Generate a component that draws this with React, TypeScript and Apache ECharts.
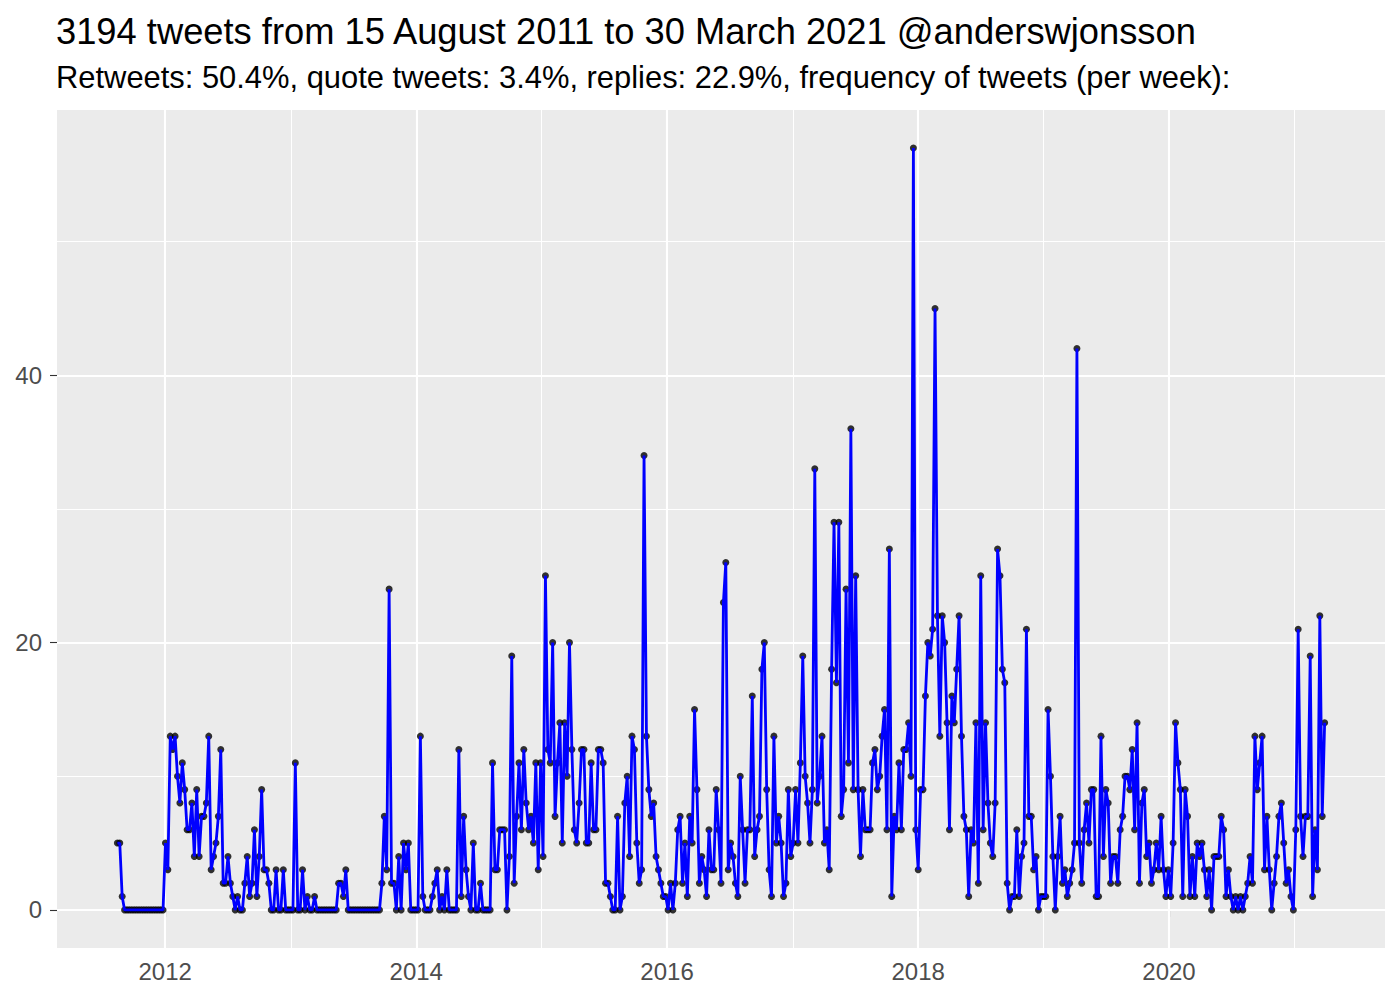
import React, { useEffect, useRef } from "react";
import * as echarts from "echarts";

// ---- texts ----
const TITLE = "3194 tweets from 15 August 2011 to 30 March 2021 @anderswjonsson";
const SUBTITLE =
  "Retweets: 50.4%, quote tweets: 3.4%, replies: 22.9%, frequency of tweets (per week):";

// ---- data: tweets per week, one value per week starting 15 August 2011 ----
const FIRST_WEEK = [2011, 7, 15]; // year, month (0-based), day
const weeks2011to2012 = [
  5, 5, 1, 0, 0, 0, 0, 0, 0, 0, 0, 0, 0, 0, 0, 0, 0, 0, 0, 0, 5, 3, 13, 12, 13, 10, 8, 11, 9, 6, 6,
  8, 4, 9, 4, 7, 7, 8, 13, 3, 4, 5, 7, 12, 2, 2, 4, 2, 1, 0, 1, 0, 0, 2,
];
const weeks2012to2013 = [
  4, 1, 2, 6, 1, 4, 9, 3, 3, 2, 0, 0, 3, 0, 0, 3, 0, 0, 0, 0, 11, 0, 0, 3, 0, 1, 0, 0, 1,
  0, 0, 0, 0, 0, 0, 0, 0, 0, 2, 2, 1, 3, 0, 0, 0, 0, 0, 0, 0, 0, 0, 0, 0, 0, 0, 0,
];
const weeks2013to2014 = [
  2, 7, 3, 24, 2, 2, 0, 4, 0, 5, 3, 5, 0, 0, 0, 0, 13, 1, 0, 0, 0, 1, 2, 3, 0, 1, 0, 3, 0, 0, 0, 0,
  12, 1, 7, 3, 1, 0, 5, 0, 0, 2, 0, 0, 0, 0, 11,
];
const weeks2014to2015 = [
  3, 3, 6, 6, 6, 0, 4, 19, 2, 7, 11, 6, 12, 8, 6, 7, 5, 11, 3, 11, 4, 25, 12, 11, 20, 7, 11, 14, 5,
  14, 10, 20, 12, 6, 5, 8, 12, 12, 5, 5, 11, 6, 6, 12, 12, 11, 2, 2, 1, 0, 0, 7, 0,
];
const weeks2015to2016 = [
  1, 8, 10, 4, 13, 12, 5, 2, 3, 34, 13, 9, 7, 8, 4, 3, 2, 1, 1, 0, 2, 0, 2, 6, 7, 2, 5, 1, 7, 5, 15,
  9, 2, 4, 3, 1, 6, 3, 3, 9, 6, 2, 23, 26,
];
const weeks2016to2017 = [
  3, 5, 4, 2, 1, 10, 6, 2, 6, 6, 16, 4, 6, 7, 18, 20, 9, 3, 1, 13, 5, 7, 5, 1, 2, 9, 4, 5, 9, 5, 11,
  19, 10, 8, 5, 9, 33,
];
const weeks2017to2018 = [
  8, 10, 13, 5, 6, 3, 18, 29, 17, 29, 7, 9, 24, 11, 36, 9, 25, 9, 4, 9, 6, 6, 6, 11, 12, 9, 10, 13,
  15, 6, 27, 1, 7, 6, 11, 6, 12, 12, 14, 10, 57,
];
const weeks2018to2019 = [
  6, 3, 9, 9, 16, 20, 19, 21, 45, 22, 13, 22, 20, 14, 6, 16, 14, 18, 22, 13, 7, 6, 1, 6, 5, 14, 2,
  25, 6, 14, 8, 5, 4, 8, 27,
];
const weeks2019 = [
  25, 18, 17, 2, 0, 1, 1, 6, 1, 4, 5, 21, 7, 7, 3, 4, 0, 1, 1, 1, 15, 10, 4, 0, 4, 7, 2, 3, 1, 2, 3,
  5, 42,
];
const weeks2019to2020 = [
  5, 2, 6, 8, 5, 9, 9, 1, 1, 13, 4, 9, 8, 2, 4, 4, 2, 6, 7, 10, 10, 9, 12, 6, 14, 2, 8, 9, 4, 5, 2, 3,
  5, 3, 7, 3, 1, 3, 1, 5, 14,
];
const weeks2020 = [
  11, 9, 1, 9, 7, 1, 4, 1, 5, 4, 5, 3, 1, 3, 0, 4, 4, 4, 7, 6, 1, 3, 1, 0, 1, 0, 1, 0, 1,
];
const weeks2020to2021 = [
  2, 4, 2, 13, 9, 11, 13, 3, 7, 3, 0, 2, 4, 7, 8, 5, 2, 3, 1, 0, 6, 21, 7, 4, 7, 7, 19, 1, 6, 3, 22,
  7, 14,
];

const WEEKLY_COUNTS = [
  ...weeks2011to2012,
  ...weeks2012to2013,
  ...weeks2013to2014,
  ...weeks2014to2015,
  ...weeks2015to2016,
  ...weeks2016to2017,
  ...weeks2017to2018,
  ...weeks2018to2019,
  ...weeks2019,
  ...weeks2019to2020,
  ...weeks2020,
  ...weeks2020to2021,
];

// ---- axis ticks ----
const X_LABEL_YEARS = [2012, 2014, 2016, 2018, 2020];
const X_MINOR_YEARS = [2013, 2015, 2017, 2019, 2021];
const Y_LABELS = [0, 20, 40];
const Y_MINOR = [10, 30, 50];

const DAY = 86400000;
const FONT = "'Liberation Sans', Arial, Helvetica, sans-serif";

export default function App() {
  const ref = useRef<HTMLDivElement>(null);

  useEffect(() => {
    if (!ref.current) return;
    const chart = echarts.init(ref.current, null, { renderer: "svg" });

    const start = Date.UTC(FIRST_WEEK[0], FIRST_WEEK[1], FIRST_WEEK[2]);
    const points = WEEKLY_COUNTS.map((v, i) => [start + i * 7 * DAY, v]);
    const xFirst = points[0][0] as number;
    const xLast = points[points.length - 1][0] as number;
    const xPad = (xLast - xFirst) * 0.05;
    const yMaxData = Math.max(...WEEKLY_COUNTS);
    const yPad = yMaxData * 0.05;

    const yearTs = (y: number) => Date.UTC(y, 0, 1);

    const majorLine = { color: "#FFFFFF", width: 2.1, type: "solid" as const };
    const minorLine = { color: "#FFFFFF", width: 1.05, type: "solid" as const };

    const gridMarks = [
      ...X_MINOR_YEARS.map((y) => ({ xAxis: yearTs(y), lineStyle: minorLine })),
      ...Y_MINOR.map((v) => ({ yAxis: v, lineStyle: minorLine })),
      ...X_LABEL_YEARS.map((y) => ({ xAxis: yearTs(y), lineStyle: majorLine })),
      ...Y_LABELS.map((v) => ({ yAxis: v, lineStyle: majorLine })),
    ];

    chart.setOption({
      animation: false,
      backgroundColor: "#FFFFFF",
      title: [
        {
          text: TITLE,
          left: 56,
          top: 13,
          padding: 0,
          textStyle: { fontSize: 36.3, fontWeight: "normal", color: "#000000", fontFamily: FONT },
        },
        {
          text: SUBTITLE,
          left: 56,
          top: 62,
          padding: 0,
          textStyle: { fontSize: 30.9, fontWeight: "normal", color: "#000000", fontFamily: FONT },
        },
      ],
      grid: {
        left: 57,
        right: 15,
        top: 110,
        bottom: 52,
        show: true,
        backgroundColor: "#EBEBEB",
        borderWidth: 0,
        containLabel: false,
      },
      xAxis: {
        type: "value",
        min: xFirst - xPad,
        max: xLast + xPad,
        axisLine: { show: false },
        splitLine: { show: false },
        axisTick: {
          show: true,
          length: 7,
          customValues: X_LABEL_YEARS.map(yearTs),
          lineStyle: { color: "#333333", width: 1.1 },
        },
        axisLabel: {
          customValues: X_LABEL_YEARS.map(yearTs),
          formatter: (v: number) => String(new Date(v).getUTCFullYear()),
          fontSize: 24,
          color: "#4D4D4D",
          fontFamily: FONT,
          margin: 11,
        },
      },
      yAxis: {
        type: "value",
        min: -yPad,
        max: yMaxData + yPad,
        axisLine: { show: false },
        splitLine: { show: false },
        axisTick: {
          show: true,
          length: 7,
          customValues: Y_LABELS,
          lineStyle: { color: "#333333", width: 1.1 },
        },
        axisLabel: {
          customValues: Y_LABELS,
          fontSize: 24,
          color: "#4D4D4D",
          fontFamily: FONT,
          margin: 15,
        },
      },
      series: [
        {
          type: "line",
          data: [],
          silent: true,
          z: 1,
          markLine: {
            silent: true,
            symbol: ["none", "none"],
            label: { show: false },
            animation: false,
            z: 1,
            data: gridMarks,
          },
        },
        {
          type: "scatter",
          data: points,
          symbol: "circle",
          symbolSize: 7,
          itemStyle: { color: "#000000" },
          silent: true,
          z: 9,
        },
        {
          type: "line",
          data: points,
          showSymbol: false,
          symbol: "none",
          lineStyle: { color: "#0000FF", width: 2.8 },
          silent: true,
          z: 10,
        },
      ],
    });

    return () => chart.dispose();
  }, []);

  return (
    <div
      ref={ref}
      style={{ position: "fixed", left: 0, top: 0, width: 1400, height: 1000 }}
    />
  );
}
